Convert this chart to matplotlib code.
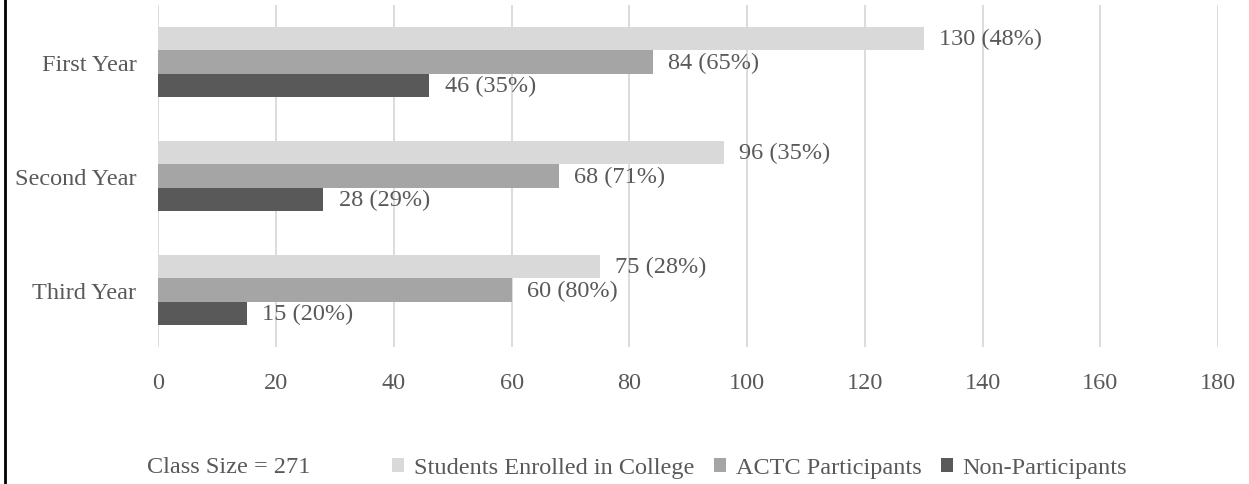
#!/usr/bin/env python3
"""
College enrollment by class year, ACTC participants vs non-participants.

Usage:
    python plot.py
"""

import matplotlib

matplotlib.use("Agg")  # Non-interactive backend
import matplotlib.pyplot as plt
from matplotlib.lines import Line2D
from matplotlib.patches import Patch
import numpy as np

# Data
years = ["First Year", "Second Year", "Third Year"]
series_names = ["Students Enrolled in College", "ACTC Participants", "Non-Participants"]
enrolled = [130, 96, 75]
actc = [84, 68, 60]
non_participants = [46, 28, 15]
enrolled_pct = [48, 35, 28]
actc_pct = [65, 71, 80]
non_pct = [35, 29, 20]
class_size = 271
x_ticks = [0, 20, 40, 60, 80, 100, 120, 140, 160, 180]

COLORS = ["#d9d9d9", "#a5a5a5", "#595959"]
TEXT_COLOR = "#595959"
FONT = "Liberation Serif"
FONT_SIZE = 17.5


def plot_enrollment(output_file):
    print("Generating enrollment chart...")

    plt.rcParams["font.family"] = [FONT, "DejaVu Serif"]

    fig = plt.figure(figsize=(12.49, 4.85), dpi=100)
    ax = fig.add_axes([0.1269, 0.2825, 0.8483, 0.7051])

    y = np.arange(len(years))
    bar_h = 0.204
    values = [enrolled, actc, non_participants]
    pcts = [enrolled_pct, actc_pct, non_pct]

    for i, (vals, pc) in enumerate(zip(values, pcts)):
        offset = (i - 1) * bar_h
        bars = ax.barh(y + offset, vals, height=bar_h, color=COLORS[i], zorder=2)
        for bar, v, p in zip(bars, vals, pc):
            ax.annotate(
                f"{v} ({p}%)",
                xy=(bar.get_width(), bar.get_y() + bar.get_height() / 2),
                xytext=(11, 0),
                textcoords="offset points",
                ha="left",
                va="center",
                fontsize=FONT_SIZE,
                color=TEXT_COLOR,
                zorder=3,
            )

    ax.set_xlim(0, 180)
    ax.set_ylim(2.5, -0.5)
    ax.set_xticks(x_ticks)
    ax.set_yticks(y)
    ax.set_yticklabels(years)
    ax.tick_params(axis="both", length=0, labelsize=FONT_SIZE, labelcolor=TEXT_COLOR)
    ax.tick_params(axis="x", pad=18)
    ax.tick_params(axis="y", pad=16)

    ax.grid(True, axis="x", color="#d9d9d9", linewidth=1.3, zorder=0)
    ax.set_axisbelow(True)
    for spine in ax.spines.values():
        spine.set_visible(False)

    # Footer: class size note and legend
    fig.text(
        147 / 1249,
        1 - 468 / 485,
        f"Class Size = {class_size}",
        ha="left",
        va="center",
        fontsize=FONT_SIZE,
        color=TEXT_COLOR,
    )
    handles = [Patch(facecolor=c, edgecolor="none") for c in COLORS]
    fig.legend(
        handles,
        series_names,
        loc="center left",
        bbox_to_anchor=(392 / 1249, 1 - 469 / 485),
        ncol=3,
        frameon=False,
        fontsize=FONT_SIZE,
        labelcolor=TEXT_COLOR,
        handlelength=0.5,
        handleheight=0.5,
        handletextpad=0.4,
        columnspacing=0.8,
        borderpad=0,
        borderaxespad=0,
    )

    # Left page border
    fig.add_artist(
        Line2D([5 / 1249, 5 / 1249], [0, 1], transform=fig.transFigure,
               color="black", linewidth=2)
    )

    plt.savefig(output_file, dpi=100)
    plt.close()
    print(f"    Saved: {output_file}")


def main():
    plot_enrollment("out.png")


if __name__ == "__main__":
    main()
